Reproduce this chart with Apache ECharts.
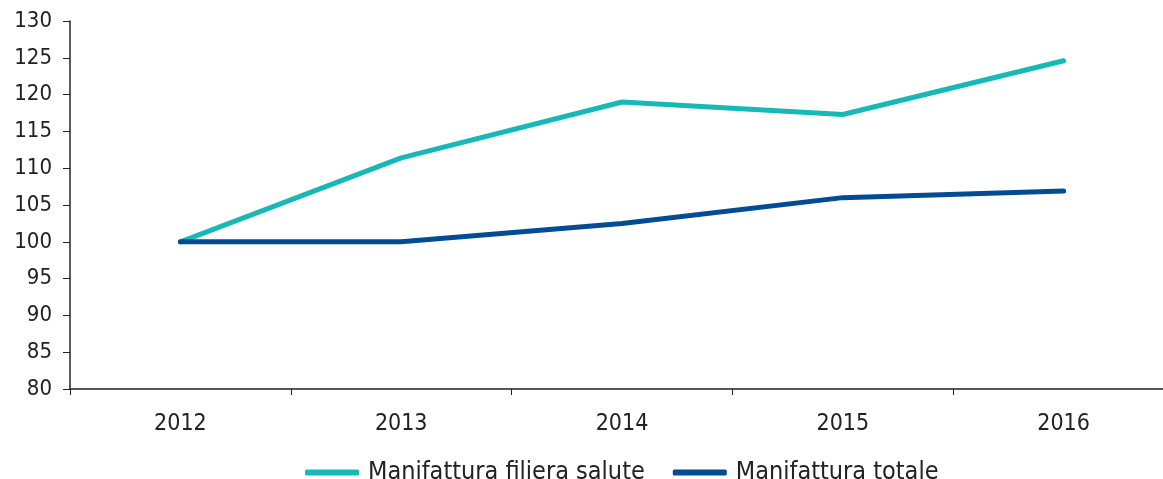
<!DOCTYPE html>
<html>
<head>
<meta charset="utf-8">
<script src="https://cdn.jsdelivr.net/npm/echarts@6/dist/echarts.min.js"></script>
<style>
  html, body { margin: 0; padding: 0; background: #fff; overflow: hidden; }
  #main { width: 1174px; height: 479px; }
</style>
</head>
<body>
<div id="main"></div>
<script>
const years = ['2012', '2013', '2014', '2015', '2016'];
const filieraSalute = [100, 111.4, 119.0, 117.3, 124.6];
const manifatturaTotale = [100, 100, 102.5, 106.0, 106.9];
const yTicks = { min: 80, max: 130, step: 5 };

const font = 'DejaVu Sans Condensed';
const textColor = '#222';
const axisColor = '#222';

// the original chart is cut off on the right, so the canvas is a bit wider than the window
const chart = echarts.init(document.getElementById('main'));
chart.setOption({
  animation: false,
  textStyle: { fontFamily: font },
  grid: { left: 70, right: 0, top: 21, bottom: 90 },
  legend: {
    top: 455,
    left: 300,
    itemWidth: 54,
    itemHeight: 6,
    itemGap: 28,
    icon: 'roundRect',
    textStyle: { fontFamily: font, fontSize: 25, color: textColor, padding: [0, 0, 0, 4] },
    data: ['Manifattura filiera salute', 'Manifattura totale']
  },
  xAxis: {
    type: 'category',
    data: years,
    boundaryGap: true,
    axisLine: { lineStyle: { color: axisColor, width: 1.5 } },
    axisTick: { show: true, length: 6, lineStyle: { color: axisColor } },
    axisLabel: { fontFamily: font, fontSize: 23, color: textColor, margin: 24 }
  },
  yAxis: {
    type: 'value',
    min: yTicks.min,
    max: yTicks.max,
    interval: yTicks.step,
    splitLine: { show: false },
    axisLine: { show: true, lineStyle: { color: axisColor, width: 1.5 } },
    axisTick: { show: true, length: 7, lineStyle: { color: axisColor } },
    axisLabel: { fontFamily: font, fontSize: 22, color: textColor, margin: 18 }
  },
  series: [
    {
      name: 'Manifattura filiera salute',
      type: 'line',
      data: filieraSalute,
      symbol: 'none',
      color: '#17B9B6',
      lineStyle: { width: 5, cap: 'round', join: 'round' }
    },
    {
      name: 'Manifattura totale',
      type: 'line',
      data: manifatturaTotale,
      symbol: 'none',
      color: '#034C94',
      lineStyle: { width: 5, cap: 'round', join: 'round' }
    }
  ]
});
</script>
</body>
</html>
